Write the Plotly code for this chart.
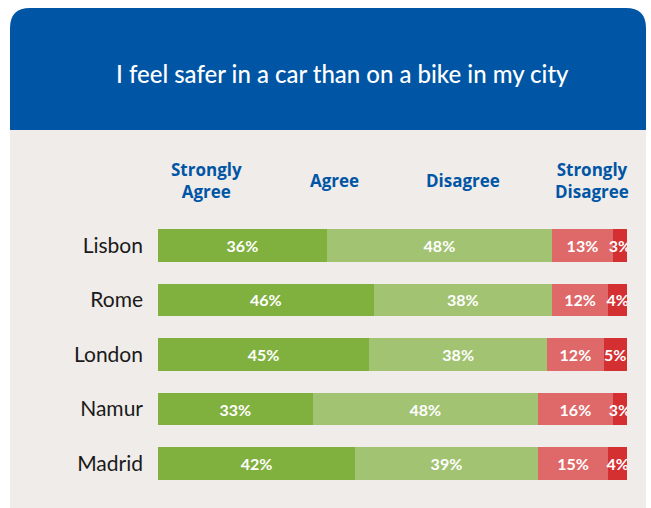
import plotly.graph_objects as go

cities = ["Lisbon", "Rome", "London", "Namur", "Madrid"]
strongly_agree = [36, 46, 45, 33, 42]
agree = [48, 38, 38, 48, 39]
disagree = [13, 12, 12, 16, 15]
strongly_disagree = [3, 4, 5, 3, 4]
series_names = ["Strongly<br>Agree", "Agree", "Disagree", "Strongly<br>Disagree"]
title_text = "I feel safer in a car than on a bike in my city"

colors = ["#80B03E", "#A2C372", "#DF6869", "#D42F31"]
series = [strongly_agree, agree, disagree, strongly_disagree]

W, H = 651, 508
L, R, T, B = 158, 24, 218, 17
pw, ph = W - L - R, H - T - B

def px(x):
    return (x - L) / pw

def py(y):
    return (H - B - y) / ph

fig = go.Figure()
for name, vals, col in zip(series_names, series, colors):
    fig.add_trace(go.Bar(
        y=cities, x=vals, orientation="h", name=name.replace("<br>", " "),
        marker=dict(color=col, line=dict(width=0)),
        text=[f"{v}%" for v in vals], textposition="inside",
        insidetextanchor="middle", textangle=0,
        textfont=dict(color="white", size=16, family="Lato", weight="bold"),
        hoverinfo="skip",
    ))

r = 20
x0, x1 = px(10), px(646)
y_top, y_bot = py(8), py(130)
rx, ry = r / pw, r / ph
path = (f"M {x0},{y_bot} L {x0},{y_top - ry} Q {x0},{y_top} {x0 + rx},{y_top} "
        f"L {x1 - rx},{y_top} Q {x1},{y_top} {x1},{y_top - ry} L {x1},{y_bot} Z")

shapes = [
    dict(type="rect", xref="paper", yref="paper", x0=x0, x1=x1, y0=py(H + 5), y1=y_bot,
         fillcolor="#F0ECE9", line=dict(width=0), layer="below"),
    dict(type="path", xref="paper", yref="paper", path=path,
         fillcolor="#0055A5", line=dict(width=0), layer="below"),
]

annotations = [
    dict(text=title_text, x=px(342), y=py(73), xref="paper", yref="paper",
         showarrow=False, font=dict(color="white", size=24, family="Lato", weight=500),
         xanchor="center", yanchor="middle"),
]
for name, xc in zip(series_names, [206, 334, 463, 592]):
    annotations.append(dict(text=name, x=px(xc), y=py(180), xref="paper", yref="paper",
                            showarrow=False, xanchor="center", yanchor="middle",
                            font=dict(color="#0055A5", size=17, family="Open Sans", weight="bold"),
                            ))

fig.update_layout(
    width=W, height=H,
    margin=dict(l=L, r=R, t=T, b=B),
    barmode="stack", bargap=0.4,
    paper_bgcolor="white", plot_bgcolor="rgba(0,0,0,0)",
    showlegend=False,
    shapes=shapes, annotations=annotations,
    uniformtext=dict(minsize=16, mode="show"),
    xaxis=dict(range=[0, 100], visible=False, fixedrange=True),
    yaxis=dict(autorange="reversed", showgrid=False, zeroline=False, showline=False,
               ticks="", ticklabelstandoff=14, fixedrange=True,
               tickfont=dict(family="Lato", size=21, color="#1a1a1a")),
)

fig.write_html("out.html", config={"displayModeBar": False},
               post_script="document.body.style.margin='0';")
